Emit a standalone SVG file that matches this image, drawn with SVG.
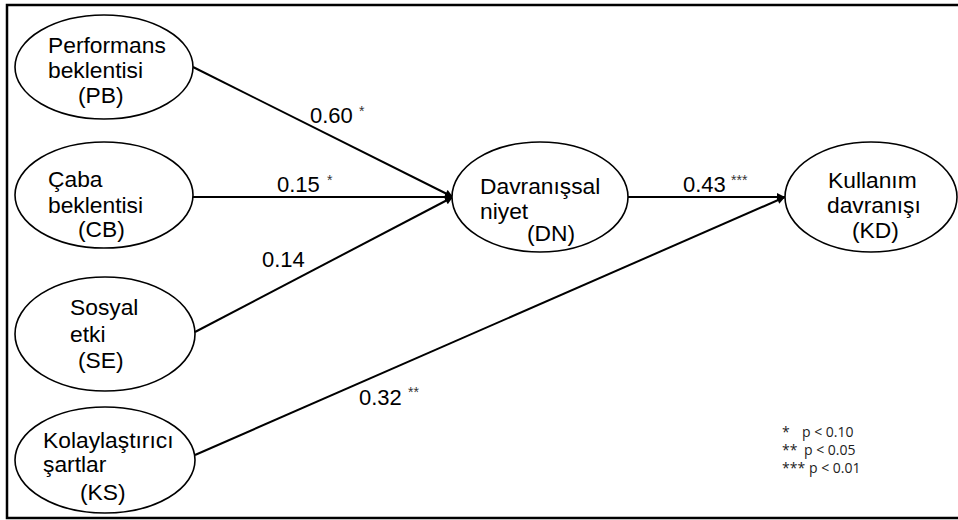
<svg xmlns="http://www.w3.org/2000/svg" width="958" height="520" viewBox="0 0 958 520">
<defs>
<marker id="arr" viewBox="0 0 10 10" refX="10" refY="5" markerWidth="10" markerHeight="8" markerUnits="userSpaceOnUse" orient="auto">
<path d="M0,0 L10,5 L0,10 z" fill="#000"/>
</marker>
</defs>
<style>
.node ellipse{fill:#fff;stroke:#000;stroke-width:1.6}
.node text{font-family:"Liberation Sans",Arial,sans-serif;font-size:22.8px;fill:#000}
.lbl{font-family:"Liberation Sans",Arial,sans-serif;font-size:22px;fill:#000}
.sig{font-family:"Liberation Sans",Arial,sans-serif;font-size:14px;fill:#333}
.leg{font-family:"Open Sans",sans-serif;font-size:14px;fill:#222}
#connectors line{stroke:#000;stroke-width:2}
</style>
<rect width="958" height="520" fill="#fff"/>
<path d="M960,5 H7 V518 H960" fill="none" stroke="#000" stroke-width="2.5"/>
<g id="connectors">
<line x1="193" y1="67" x2="453" y2="197" marker-end="url(#arr)"/>
<line x1="193" y1="197" x2="453" y2="197" marker-end="url(#arr)"/>
<line x1="195" y1="332" x2="453" y2="197" marker-end="url(#arr)"/>
<line x1="628" y1="197" x2="785" y2="197" marker-end="url(#arr)"/>
<line x1="195" y1="455" x2="785" y2="197" marker-end="url(#arr)"/>
<text class="lbl" x="310" y="123">0.60</text><text class="sig" x="359" y="116">*</text>
<text class="lbl" x="277" y="192">0.15</text><text class="sig" x="327" y="185">*</text>
<text class="lbl" x="262" y="267">0.14</text>
<text class="lbl" x="683" y="192">0.43</text><text class="sig" x="731" y="185">***</text>
<text class="lbl" x="359" y="405">0.32</text><text class="sig" x="408" y="397">**</text>
</g>
<g id="PB" class="node">
<ellipse cx="104" cy="67" rx="89" ry="52"/>
<text x="48" y="53">Performans</text>
<text x="48" y="78">beklentisi</text>
<text x="78" y="103">(PB)</text>
</g>
<g id="CB" class="node">
<ellipse cx="104" cy="195" rx="89" ry="53"/>
<text x="48" y="187">Çaba</text>
<text x="48" y="213">beklentisi</text>
<text x="78" y="237">(CB)</text>
</g>
<g id="SE" class="node">
<ellipse cx="105" cy="334" rx="90" ry="57"/>
<text x="70" y="315">Sosyal</text>
<text x="70" y="342">etki</text>
<text x="78" y="368">(SE)</text>
</g>
<g id="KS" class="node">
<ellipse cx="105" cy="460" rx="90" ry="53"/>
<text x="43" y="448">Kolaylaştırıcı</text>
<text x="43" y="472">şartlar</text>
<text x="80" y="500">(KS)</text>
</g>
<g id="DN" class="node">
<ellipse cx="540" cy="197" rx="88" ry="55"/>
<text x="480" y="194">Davranışsal</text>
<text x="480" y="219">niyet</text>
<text x="527" y="241">(DN)</text>
</g>
<g id="KD" class="node">
<ellipse cx="871" cy="197" rx="86" ry="55"/>
<text x="828" y="188">Kullanım</text>
<text x="827" y="213">davranışı</text>
<text x="852" y="238">(KD)</text>
</g>
<g id="legend">
<text class="leg" x="782" y="437">*</text><text class="leg" x="802" y="437">p &lt; 0.10</text>
<text class="leg" x="782" y="455">**</text><text class="leg" x="804" y="455">p &lt; 0.05</text>
<text class="leg" x="782" y="473">***</text><text class="leg" x="809" y="473">p &lt; 0.01</text>
</g>
</svg>
